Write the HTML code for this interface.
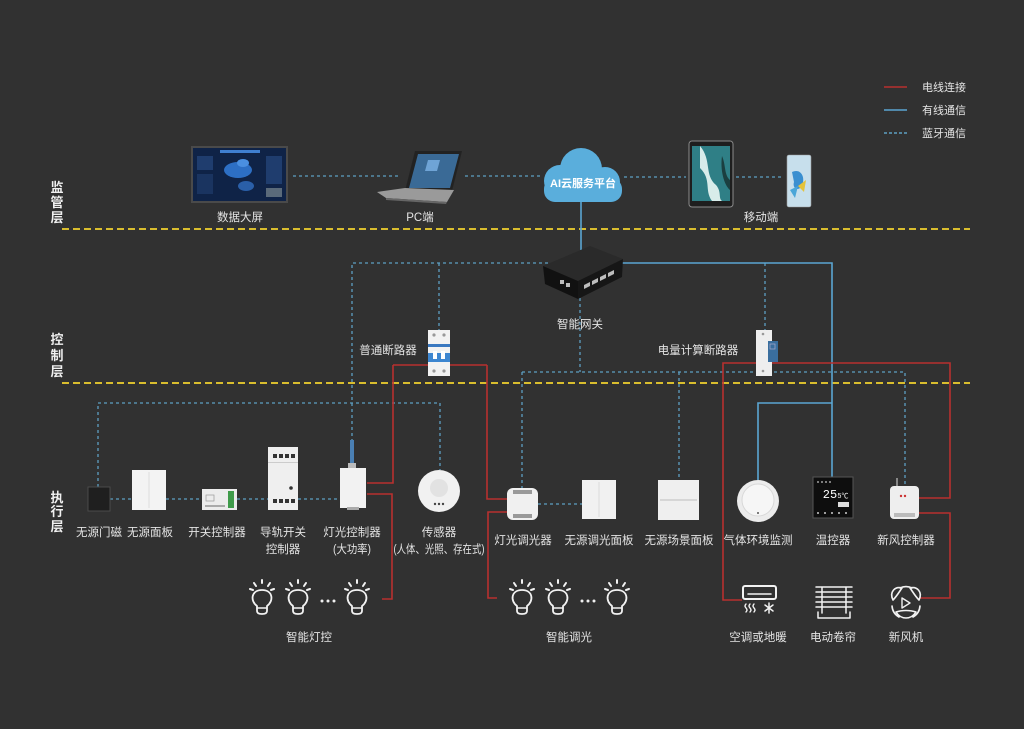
<!DOCTYPE html>
<html><head><meta charset="utf-8"><style>
html,body{margin:0;padding:0;background:#313131;}
svg{display:block;}
text{font-family:"Liberation Sans","Noto Sans CJK SC",sans-serif;fill:#e4e4e4;font-size:11.5px;text-anchor:middle;}
.lay{font-weight:bold;font-size:13px;fill:#f0f0f0;}
.lg{text-anchor:start;font-size:11px;}
.bt{fill:none;stroke:#5d9fc2;stroke-width:1.3;stroke-dasharray:3 3;}
.wb{fill:none;stroke:#5aa6d2;stroke-width:1.6;}
.rd{fill:none;stroke:#b8312f;stroke-width:1.6;}
.yl{fill:none;stroke:#d9bd2e;stroke-width:2;stroke-dasharray:7 4;}
.ic{fill:none;stroke:#f2f2f2;stroke-width:2;stroke-linecap:round;stroke-linejoin:round;}
</style></head><body>
<svg width="1024" height="729" viewBox="0 0 1024 729" xmlns="http://www.w3.org/2000/svg">
<rect width="1024" height="729" fill="#313131"/>

<!-- legend -->
<line x1="884" y1="87" x2="907" y2="87" stroke="#b8312f" stroke-width="1.4"/>
<line x1="884" y1="110" x2="907" y2="110" stroke="#5aa6d2" stroke-width="1.4"/>
<line x1="884" y1="133" x2="907" y2="133" stroke="#5d9fc2" stroke-width="1.4" stroke-dasharray="3 2"/>
<text class="lg" x="922" y="91">电线连接</text>
<text class="lg" x="922" y="114">有线通信</text>
<text class="lg" x="922" y="137">蓝牙通信</text>

<!-- layer labels -->
<text class="lay" x="57" y="192">监</text>
<text class="lay" x="57" y="207">管</text>
<text class="lay" x="57" y="222">层</text>
<text class="lay" x="57" y="344">控</text>
<text class="lay" x="57" y="360">制</text>
<text class="lay" x="57" y="376">层</text>
<text class="lay" x="57" y="502">执</text>
<text class="lay" x="57" y="516">行</text>
<text class="lay" x="57" y="531">层</text>

<!-- yellow dividers -->
<line class="yl" x1="62" y1="229" x2="970" y2="229"/>
<line class="yl" x1="62" y1="383" x2="970" y2="383"/>

<!-- bluetooth dashed -->
<path class="bt" d="M293,176 H400 M465,176 H540 M624,177 H686 M736,177 H784"/>
<path class="bt" d="M548,263 H352 V440 M439,263 V330 M765,263 V330"/>
<path class="bt" d="M580,298 V372 M522,372 H905 V486 M522,372 V488 M679,372 V479"/>
<path class="bt" d="M98,487 V403 H440 V470"/>
<path class="bt" d="M110,499 H132 M166,499 H202 M237,499 H268 M298,499 H340 M538,504 H583"/>

<!-- wired solid blue -->
<path class="wb" d="M581,202 V250 M618,263 H832 V477 M758,480 V403 H832"/>

<!-- red wires -->
<path class="rd" d="M393,365 H487 M393,365 V483 H367 M367,494 H392 V599 H382"/>
<path class="rd" d="M487,365 V499 H508 M508,512 H488 V598 H497"/>
<path class="rd" d="M742,600 H723 V363 H950 V498 H918 M918,513 H950 V598 H920"/>

<!-- data screen -->
<rect x="191" y="146" width="97" height="57" fill="#4a4a4a"/>
<rect x="193" y="148" width="93" height="53" fill="#0f2347"/>
<rect x="220" y="150" width="40" height="3" fill="#3f7fd0"/>
<ellipse cx="238" cy="170" rx="14" ry="8" fill="#2d6fc4"/>
<ellipse cx="243" cy="163" rx="6" ry="4" fill="#4a8fe0"/>
<ellipse cx="246" cy="186" rx="8" ry="5" fill="#2a5fa8"/>
<rect x="197" y="156" width="16" height="14" fill="#1f3d6e"/>
<rect x="197" y="174" width="16" height="20" fill="#1a3460"/>
<rect x="266" y="156" width="16" height="28" fill="#1f3d6e"/>
<rect x="266" y="188" width="16" height="9" fill="#5a6a7a"/>

<!-- laptop -->
<polygon points="415,151 462,151 452,191 405,191" fill="#222"/>
<polygon points="418,154 459,154 450,188 409,188" fill="#3a6a96"/>
<polygon points="428,160 440,160 437,171 425,171" fill="#6fa4d6"/>
<polygon points="377,192 405,188 454,190 447,202 386,198" fill="#9a9a9a"/>
<polygon points="386,198 447,202 446,204 386,200" fill="#666"/>

<!-- cloud -->
<g fill="#5aaedc">
<circle cx="560" cy="181" r="16"/>
<circle cx="581" cy="169" r="21"/>
<circle cx="605" cy="182" r="15"/>
<rect x="544" y="178" width="78" height="24" rx="11"/>
</g>
<text x="583" y="187" style="font-weight:bold;font-size:11px;fill:#fff">AI云服务平台</text>

<!-- tablet -->
<rect x="689" y="141" width="44" height="66" rx="3" fill="#1e1e1e" stroke="#8a8a8a" stroke-width="1"/>
<rect x="692" y="146" width="38" height="55" fill="#2f7f86"/>
<path d="M700,146 C712,160 704,175 716,185 C722,192 718,198 722,201 L712,201 C704,190 712,180 700,168 Z" fill="#d8ecea"/>
<path d="M722,156 C726,165 724,175 730,180 V190 C724,185 720,170 722,156Z" fill="#1b3f40"/>

<!-- phone -->
<rect x="787" y="155" width="24" height="52" rx="2" fill="#c7dfec" stroke="#999" stroke-width="0.6"/>
<path d="M792,172 C800,168 806,176 802,186 C798,192 792,188 794,182 Z" fill="#3a8fd0"/>
<path d="M798,186 L806,180 L804,192 Z" fill="#e5c33a"/>
<path d="M790,190 L798,186 L795,198 Z" fill="#4aa6d8"/>

<text x="240" y="221">数据大屏</text>
<text x="420" y="221">PC端</text>
<text x="761" y="221">移动端</text>

<!-- gateway -->
<polygon points="543,266 590,246 623,259 578,281" fill="#2a2a2a"/>
<polygon points="543,266 578,281 578,299 545,284" fill="#111"/>
<polygon points="578,281 623,259 622,277 578,299" fill="#161616"/>
<g fill="#bdbdbd">
<polygon points="584,285 590,282 590,286 584,289"/>
<polygon points="592,281 598,278 598,282 592,285"/>
<polygon points="600,277 606,274 606,278 600,281"/>
<polygon points="608,273 614,270 614,274 608,277"/>
<rect x="560" y="280" width="4" height="4"/>
<rect x="566" y="283" width="4" height="4"/>
</g>
<text x="580" y="328">智能网关</text>

<!-- breaker 1 -->
<rect x="428" y="330" width="22" height="46" fill="#f2f2f2"/>
<rect x="428" y="344" width="22" height="3" fill="#3a78c0"/>
<rect x="428" y="353" width="22" height="9" fill="#3d86d0"/>
<rect x="433" y="351" width="4" height="8" fill="#fff"/>
<rect x="441" y="351" width="4" height="8" fill="#fff"/>
<circle cx="434" cy="335" r="1.6" fill="#999"/><circle cx="444" cy="335" r="1.6" fill="#999"/>
<circle cx="434" cy="371" r="1.6" fill="#999"/><circle cx="444" cy="371" r="1.6" fill="#999"/>
<text x="388" y="354">普通断路器</text>

<!-- breaker 2 -->
<rect x="756" y="330" width="16" height="46" fill="#eeeeee"/>
<rect x="768" y="341" width="10" height="21" fill="#3a6e9e"/>
<rect x="770" y="344" width="5" height="5" fill="none" stroke="#aac" stroke-width="0.7"/>
<circle cx="763" cy="334" r="1.3" fill="#999"/><circle cx="763" cy="371" r="1.3" fill="#999"/>
<text x="698" y="354">电量计算断路器</text>

<!-- door sensor -->
<rect x="88" y="487" width="22" height="24" fill="#1f1f1f" stroke="#4a4a4a" stroke-width="1"/>
<text x="99" y="536">无源门磁</text>

<!-- passive panel -->
<rect x="132" y="470" width="34" height="40" fill="#f3f3f3"/>
<line x1="149" y1="472" x2="149" y2="508" stroke="#dcdcdc" stroke-width="1"/>
<text x="150" y="536">无源面板</text>

<!-- switch controller -->
<rect x="202" y="489" width="35" height="21" fill="#ececec"/>
<rect x="228" y="491" width="6" height="17" fill="#3f9b4a"/>
<rect x="206" y="495" width="8" height="6" fill="none" stroke="#999" stroke-width="0.7"/>
<rect x="205" y="505" width="20" height="2" fill="#aaa"/>
<text x="217" y="536">开关控制器</text>

<!-- rail controller -->
<rect x="268" y="447" width="30" height="63" fill="#efefef"/>
<rect x="268" y="462" width="30" height="1" fill="#ccc"/>
<g fill="#333">
<rect x="273" y="454" width="4" height="4"/><rect x="279" y="454" width="4" height="4"/><rect x="285" y="454" width="4" height="4"/><rect x="291" y="454" width="4" height="4"/>
<rect x="273" y="499" width="4" height="4"/><rect x="279" y="499" width="4" height="4"/><rect x="285" y="499" width="4" height="4"/><rect x="291" y="499" width="4" height="4"/>
<circle cx="291" cy="488" r="1.8"/>
</g>
<text x="283" y="536">导轨开关</text>
<text x="283" y="553">控制器</text>

<!-- light controller -->
<rect x="350" y="440" width="4" height="24" fill="#4a7fb3"/>
<rect x="348" y="463" width="8" height="5" fill="#bbb"/>
<rect x="340" y="468" width="26" height="40" fill="#f2f2f2"/>
<rect x="347" y="507" width="12" height="3" fill="#aaa"/>
<text x="352" y="536">灯光控制器</text>
<text x="352" y="553" textLength="38" lengthAdjust="spacingAndGlyphs">(大功率)</text>

<!-- sensor -->
<circle cx="439" cy="491" r="21" fill="#f1f1f1"/>
<circle cx="439" cy="488" r="9" fill="#e2e2e2"/>
<circle cx="435" cy="504" r="1.2" fill="#444"/><circle cx="439" cy="504" r="1.2" fill="#444"/><circle cx="443" cy="504" r="1.2" fill="#444"/>
<text x="439" y="536">传感器</text>
<text x="439" y="553" textLength="91" lengthAdjust="spacingAndGlyphs">(人体、光照、存在式)</text>

<!-- light dimmer -->
<rect x="507" y="488" width="31" height="32" rx="6" fill="#f0f0f0"/>
<rect x="513" y="490" width="19" height="4" fill="#999"/>
<rect x="513" y="514" width="19" height="4" fill="#999"/>
<text x="523" y="544">灯光调光器</text>

<!-- passive dimmer panel -->
<rect x="582" y="480" width="34" height="39" fill="#f1f1f1"/>
<line x1="599" y1="482" x2="599" y2="517" stroke="#dadada"/>
<text x="599" y="544">无源调光面板</text>

<!-- passive scene panel -->
<rect x="658" y="480" width="41" height="40" fill="#efefef"/>
<line x1="660" y1="500" x2="697" y2="500" stroke="#bdbdbd"/>
<text x="679" y="544">无源场景面板</text>

<!-- gas sensor -->
<circle cx="758" cy="501" r="21" fill="#ececec"/>
<circle cx="758" cy="500" r="16" fill="#f6f6f6" stroke="#d8d8d8"/>
<circle cx="758" cy="513" r="1" fill="#555"/>
<text x="758" y="544">气体环境监测</text>

<!-- thermostat -->
<rect x="813" y="477" width="40" height="41" fill="#0e0e0e" stroke="#555" stroke-width="1"/>
<text x="830" y="498" style="font-size:12px;fill:#fff;font-family:'Liberation Mono',monospace">25</text>
<text x="843" y="498" style="font-size:7px;fill:#fff">5℃</text>
<rect x="838" y="502" width="11" height="5" fill="#ddd"/>
<g fill="#ccc"><circle cx="818" cy="482" r="0.9"/><circle cx="822" cy="482" r="0.9"/><circle cx="826" cy="482" r="0.9"/><circle cx="830" cy="482" r="0.9"/>
<circle cx="818" cy="513" r="1"/><circle cx="825" cy="513" r="1"/><circle cx="832" cy="513" r="1"/><circle cx="839" cy="513" r="1"/><circle cx="846" cy="513" r="1"/></g>
<text x="833" y="544">温控器</text>

<!-- fresh air controller -->
<line x1="897" y1="486" x2="897" y2="478" stroke="#ddd" stroke-width="1"/>
<rect x="890" y="486" width="29" height="33" rx="4" fill="#eeeeee"/>
<circle cx="901" cy="496" r="1.2" fill="#c33"/><circle cx="905" cy="496" r="1.2" fill="#c33"/>
<rect x="894" y="513" width="21" height="4" fill="#bbb"/>
<text x="906" y="544">新风控制器</text>

<!-- bulbs -->
<defs>
<g id="bulb">
<path class="ic" d="M0,-18 V-15 M-8,-15 L-6,-12 M8,-15 L6,-12 M-12,-9 L-9,-8 M12,-9 L9,-8"/>
<path class="ic" d="M-5,8 C-12,3 -11,-8 0,-8 C11,-8 12,3 5,8 V13 Q5,16 0,16 Q-5,16 -5,13 Z" style="stroke-width:1.8"/>
<line class="ic" x1="-5" y1="10" x2="5" y2="10" style="stroke-width:1.5"/>
</g>
</defs>
<use href="#bulb" x="262" y="598"/>
<use href="#bulb" x="298" y="598"/>
<use href="#bulb" x="357" y="598"/>
<use href="#bulb" x="522" y="598"/>
<use href="#bulb" x="558" y="598"/>
<use href="#bulb" x="617" y="598"/>
<g fill="#f0f0f0">
<circle cx="322" cy="601" r="1.5"/><circle cx="328" cy="601" r="1.5"/><circle cx="334" cy="601" r="1.5"/>
<circle cx="582" cy="601" r="1.5"/><circle cx="588" cy="601" r="1.5"/><circle cx="594" cy="601" r="1.5"/>
</g>
<text x="309" y="641">智能灯控</text>
<text x="569" y="641">智能调光</text>

<!-- AC -->
<rect class="ic" x="743" y="586" width="33" height="13" rx="2"/>
<line class="ic" x1="748" y1="594" x2="771" y2="594" style="stroke-width:1.5"/>
<path class="ic" style="stroke-width:1.4" d="M746,604 q-2,2 0,4 q2,2 0,4 M750,604 q-2,2 0,4 q2,2 0,4 M754,604 q-2,2 0,4 q2,2 0,4"/>
<path class="ic" style="stroke-width:1.5" d="M769,603 V613 M765,605 L773,611 M773,605 L765,611"/>
<text x="758" y="641">空调或地暖</text>

<!-- blinds -->
<path class="ic" style="stroke-width:1.5" d="M816,587 H852 M816,592 H852 M816,597 H852 M816,602 H852 M816,607 H852 M822,587 V613 M846,587 V613 M818,612 V618 H850 V612"/>
<text x="833" y="641">电动卷帘</text>

<!-- fresh air fan -->
<path class="ic" style="stroke-width:1.6" d="M893,600 C889,592 895,586 902,588 C899,592 897,596 893,600 Z M919,600 C923,592 917,586 910,588 C913,592 915,596 919,600 Z M896,612 C901,620 911,620 916,612 C910,610 902,610 896,612 Z M892,606 A14,14 0 0,0 899,617 M920,606 A14,14 0 0,1 913,617 M900,588 A14,14 0 0,1 912,588"/>
<path class="ic" style="stroke-width:1.4" d="M902,598 L910,603 L902,608 Z"/>
<text x="906" y="641">新风机</text>
</svg>
</body></html>
